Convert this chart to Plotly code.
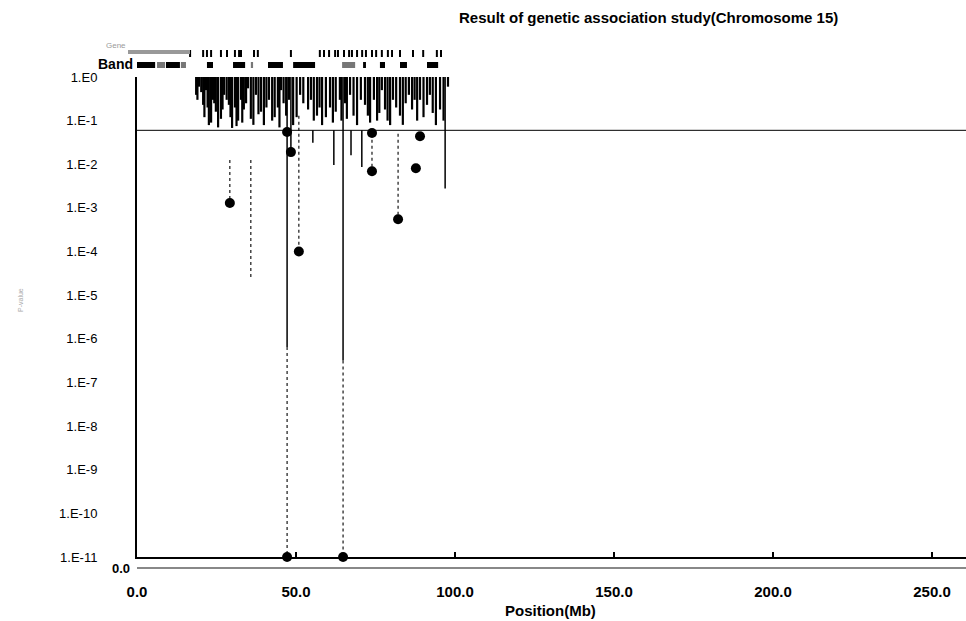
import plotly.graph_objects as go

TITLE = "Result of genetic association study(Chromosome 15)"
X_TITLE = "Position(Mb)"
Y_TITLE = "P-value"

x_tick_vals = [0, 50, 100, 150, 200, 250]
x_tick_text = ["0.0", "50.0", "100.0", "150.0", "200.0", "250.0"]
y_tick_exp = [0, -1, -2, -3, -4, -5, -6, -7, -8, -9, -10, -11]
y_tick_text = ["1.E0", "1.E-1", "1.E-2", "1.E-3", "1.E-4", "1.E-5",
               "1.E-6", "1.E-7", "1.E-8", "1.E-9", "1.E-10", "1.E-11"]

threshold_p = 0.06

# dense band of SNP stems hanging from p = 1 (position Mb, p-value)
snp_pos = [18.6, 19.0, 19.5, 20.2, 20.8, 21.2, 21.7, 22.2, 22.6, 23.3, 23.9, 24.3,
           24.8, 25.5, 26.4, 26.9, 27.4, 28.2, 28.9, 29.4, 29.9, 30.8, 31.3, 31.8,
           32.7, 33.1, 33.6, 34.3, 34.9, 35.8, 36.6, 37.4, 38.2, 39.0, 39.9, 40.7,
           41.5, 42.5, 43.3, 44.3, 44.8, 45.3, 46.1, 46.9, 47.8, 49.1, 50.2, 51.3,
           52.3, 53.8, 54.7, 55.6, 56.6, 57.4, 58.2, 59.4, 60.7, 61.6, 62.5, 63.8,
           64.3, 65.4, 66.0, 67.0, 68.1, 69.2, 70.4, 71.7, 72.6, 73.3, 74.5, 75.5,
           76.2, 77.0, 78.0, 78.8, 79.6, 80.5, 81.5, 82.7, 83.6, 84.5, 85.5, 86.5,
           87.3, 88.1, 89.0, 90.1, 91.2, 92.1, 93.0, 94.0, 95.3, 96.4, 97.8]
snp_p = [0.39, 0.30, 0.60, 0.45, 0.23, 0.12, 0.50, 0.20, 0.079, 0.09, 0.30, 0.25,
         0.16, 0.07, 0.11, 0.18, 0.39, 0.30, 0.23, 0.12, 0.068, 0.20, 0.075, 0.10,
         0.30, 0.09, 0.18, 0.25, 0.55, 0.11, 0.08, 0.39, 0.14, 0.16, 0.079, 0.20,
         0.30, 0.10, 0.12, 0.20, 0.07, 0.50, 0.25, 0.13, 0.30, 0.079, 0.12, 0.39,
         0.25, 0.18, 0.30, 0.10, 0.13, 0.20, 0.079, 0.12, 0.20, 0.09, 0.16, 0.30,
         0.10, 0.25, 0.11, 0.39, 0.13, 0.079, 0.30, 0.23, 0.13, 0.09, 0.30, 0.10,
         0.15, 0.50, 0.18, 0.10, 0.079, 0.30, 0.20, 0.13, 0.08, 0.25, 0.39, 0.18,
         0.30, 0.10, 0.30, 0.12, 0.23, 0.39, 0.15, 0.079, 0.18, 0.10, 0.60]
stem_top_p = 1.0

# longer solid stems (position, upper p, lower p)
solid_pos = [47.2, 64.8, 96.9, 48.4, 61.9, 70.7, 67.3, 55.3]
solid_top = [1.0, 1.0, 1.0, 1.0, 0.06, 0.06, 0.06, 0.06]
solid_bot = [6.5e-7, 3.2e-7, 0.0028, 0.019, 0.0096, 0.0087, 0.016, 0.031]

# dotted stems (position, upper p, lower p)
dot_pos = [35.8, 29.2, 50.9, 82.1, 73.9, 47.2, 64.8]
dot_top = [0.0125, 0.0125, 0.13, 0.05, 0.05, 6.5e-7, 3.2e-7]
dot_bot = [2.6e-5, 1.3e-3, 1.0e-4, 5.5e-4, 0.0069, 1e-11, 1e-11]

# significant hits (markers)
hit_pos = [29.2, 47.2, 48.4, 50.9, 73.9, 73.9, 82.1, 87.7, 89.0, 47.2, 64.8]
hit_p = [1.3e-3, 0.055, 0.019, 1.0e-4, 0.052, 0.0069, 5.5e-4, 0.0081, 0.044, 1e-11, 1e-11]

# cytogenetic band blocks (start Mb, end Mb, stain)
band_start = [0.0, 6.3, 9.1, 13.8, 22.0, 30.2, 35.8, 41.2, 49.1, 64.5, 71.1, 76.4, 82.7, 91.2]
band_end = [5.7, 8.8, 13.5, 15.4, 23.9, 34.0, 36.5, 45.9, 56.0, 68.6, 72.0, 78.0, 84.9, 94.7]
band_stain = ["dark", "grey", "dark", "grey", "dark", "dark", "grey", "dark", "dark",
              "grey", "dark", "dark", "dark", "dark"]

# gene marks (Mb)
gene_pos = [16.7, 20.8, 22.0, 23.3, 26.4, 28.3, 30.8, 32.1, 32.7, 36.8, 38.0, 48.4,
            57.5, 58.8, 60.4, 62.3, 63.2, 65.1, 66.7, 67.6, 69.2, 70.8, 72.0, 73.9,
            75.2, 77.0, 78.9, 80.2, 82.7, 86.8, 90.0, 94.3, 95.6]

# ---------------------------------------------------------------------------
W, H = 966, 621
L, R, T, B = 137, 0, 77, 64
PW, PH = W - L - R, H - T - B


def px_to_paper_x(px):
    return (px - L) / PW


def px_to_paper_y(py):
    return (H - B - py) / PH


def segments(xs, tops, bots):
    X, Y = [], []
    for x, t, b in zip(xs, tops, bots):
        X += [x, x, None]
        Y += [t, b, None]
    return X, Y


fig = go.Figure()

bx, by = segments(snp_pos, [stem_top_p] * len(snp_pos), snp_p)
fig.add_trace(go.Scatter(x=bx, y=by, mode="lines",
                         line=dict(color="black", width=2.2), hoverinfo="skip"))

sx, sy = segments(solid_pos, solid_top, solid_bot)
fig.add_trace(go.Scatter(x=sx, y=sy, mode="lines",
                         line=dict(color="black", width=1.5), hoverinfo="skip"))

dx, dy = segments(dot_pos, dot_top, dot_bot)
fig.add_trace(go.Scatter(x=dx, y=dy, mode="lines",
                         line=dict(color="black", width=1.1, dash="3px,3px"), hoverinfo="skip"))

fig.add_trace(go.Scatter(x=[0, 260.7], y=[threshold_p, threshold_p], mode="lines",
                         line=dict(color="black", width=1), hoverinfo="skip"))

fig.add_trace(go.Scatter(x=hit_pos, y=hit_p, mode="markers", cliponaxis=False,
                         marker=dict(color="black", size=10, symbol="circle"),
                         hoverinfo="x+y"))

shapes = []
band_y0, band_y1 = px_to_paper_y(68), px_to_paper_y(62)
for s, e, st in zip(band_start, band_end, band_stain):
    shapes.append(dict(type="rect", xref="x", yref="paper", x0=s, x1=e,
                       y0=band_y0, y1=band_y1, line=dict(width=0),
                       fillcolor="black" if st == "dark" else "#777"))
gene_y0, gene_y1 = px_to_paper_y(57), px_to_paper_y(50)
for g in gene_pos:
    shapes.append(dict(type="line", xref="x", yref="paper", x0=g, x1=g,
                       y0=gene_y0, y1=gene_y1, line=dict(color="black", width=2)))
# grey bar in the gene row left of the axis
shapes.append(dict(type="rect", xref="paper", yref="paper",
                   x0=px_to_paper_x(128), x1=px_to_paper_x(190),
                   y0=px_to_paper_y(54), y1=px_to_paper_y(50),
                   line=dict(width=0), fillcolor="#999"))
# secondary grey baseline
shapes.append(dict(type="line", xref="paper", yref="paper", x0=0, x1=1,
                   y0=px_to_paper_y(568), y1=px_to_paper_y(568),
                   line=dict(color="#888", width=2)))

FONT = "Liberation Sans, Arial, sans-serif"
annotations = [
    dict(text="<b>" + TITLE + "</b>", xref="paper", yref="paper",
         x=px_to_paper_x(648), y=px_to_paper_y(17), xanchor="center", yanchor="middle",
         showarrow=False, font=dict(size=15, color="black", family=FONT)),
    dict(text="<b>" + X_TITLE + "</b>", xref="paper", yref="paper",
         x=px_to_paper_x(550), y=px_to_paper_y(610), xanchor="center", yanchor="middle",
         showarrow=False, font=dict(size=15, color="black", family=FONT)),
    dict(text=Y_TITLE, xref="paper", yref="paper", textangle=-90,
         x=px_to_paper_x(20), y=px_to_paper_y(300), xanchor="center", yanchor="middle",
         showarrow=False, font=dict(size=7, color="#aaa", family=FONT)),
    dict(text="<b>Band</b>", xref="paper", yref="paper",
         x=px_to_paper_x(135), y=px_to_paper_y(64), xanchor="right", yanchor="middle",
         showarrow=False, font=dict(size=14, color="black", family=FONT)),
    dict(text="Gene", xref="paper", yref="paper",
         x=px_to_paper_x(104), y=px_to_paper_y(46), xanchor="left", yanchor="middle",
         showarrow=False, font=dict(size=8, color="#999", family=FONT)),
    dict(text="<b>0.0</b>", xref="paper", yref="paper",
         x=px_to_paper_x(121), y=px_to_paper_y(568), xanchor="center", yanchor="middle",
         showarrow=False, font=dict(size=13, color="black", family=FONT)),
]

fig.update_layout(
    width=W, height=H,
    margin=dict(l=L, r=R, t=T, b=B, pad=0),
    paper_bgcolor="white", plot_bgcolor="white",
    showlegend=False,
    shapes=shapes, annotations=annotations,
    font=dict(family=FONT, color="black"),
    xaxis=dict(range=[0, 260.7], tickvals=x_tick_vals, ticktext=x_tick_text,
               ticks="inside", ticklen=5, tickwidth=1.5, tickcolor="black",
               showline=True, linewidth=2, linecolor="black",
               showgrid=False, zeroline=False, ticklabelstandoff=20,
               tickfont=dict(size=15, weight="bold", family=FONT)),
    yaxis=dict(type="log", range=[-11, 0],
               tickvals=[10.0 ** e for e in y_tick_exp], ticktext=y_tick_text,
               ticks="", showline=True, linewidth=2, linecolor="black",
               showgrid=False, zeroline=False, ticklabelstandoff=35,
               tickfont=dict(size=13, family=FONT)),
)

fig.write_html("out.html")
